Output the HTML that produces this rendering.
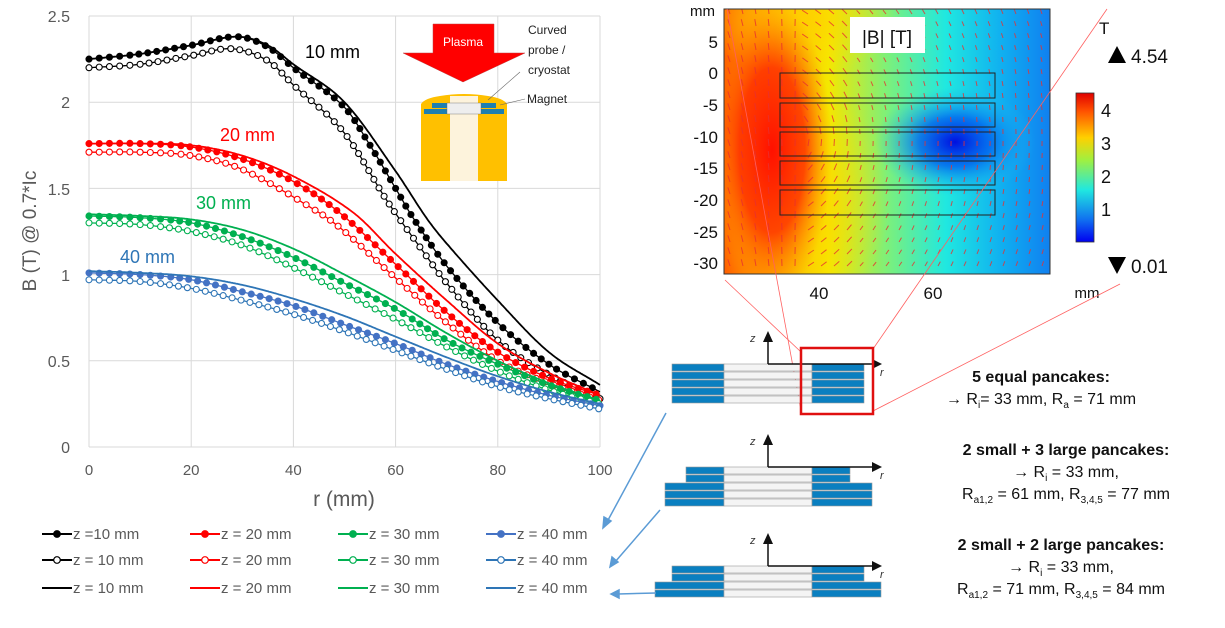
<!DOCTYPE html>
<html><head><meta charset="utf-8"><style>
body{margin:0;background:#fff;width:1225px;height:623px;overflow:hidden;font-family:"Liberation Sans",sans-serif}
svg text{font-family:"Liberation Sans",sans-serif}
</style></head><body>
<svg id="s" width="1225" height="623" viewBox="0 0 1225 623" xmlns="http://www.w3.org/2000/svg">
<defs>
<linearGradient id="hg" x1="0" x2="1" y1="0" y2="0">
<stop offset="0" stop-color="#ff6000"/><stop offset="0.15" stop-color="#ff9a00"/><stop offset="0.32" stop-color="#f4e800"/>
<stop offset="0.5" stop-color="#7df07a"/><stop offset="0.68" stop-color="#20e8e0"/><stop offset="0.85" stop-color="#10b0f0"/><stop offset="1" stop-color="#1080f0"/></linearGradient>
<radialGradient id="rr" cx="0.5" cy="0.5" r="0.5"><stop offset="0" stop-color="#ff1000"/><stop offset="0.55" stop-color="#ff3000" stop-opacity="0.85"/><stop offset="1" stop-color="#ff8000" stop-opacity="0"/></radialGradient>
<radialGradient id="bb" cx="0.5" cy="0.5" r="0.5"><stop offset="0" stop-color="#0010e0"/><stop offset="0.45" stop-color="#0060f0" stop-opacity="0.8"/><stop offset="1" stop-color="#20c0f0" stop-opacity="0"/></radialGradient>
<radialGradient id="yy" cx="0.5" cy="0.5" r="0.5"><stop offset="0" stop-color="#ffd000" stop-opacity="0.9"/><stop offset="1" stop-color="#ffe000" stop-opacity="0"/></radialGradient>
<linearGradient id="cb" x1="0" x2="0" y1="0" y2="1">
<stop offset="0" stop-color="#e00000"/><stop offset="0.12" stop-color="#ff5000"/><stop offset="0.3" stop-color="#ffd000"/><stop offset="0.45" stop-color="#a0f040"/><stop offset="0.65" stop-color="#20e8e0"/><stop offset="0.85" stop-color="#1070f0"/><stop offset="1" stop-color="#0000f0"/></linearGradient>
<clipPath id="hc"><rect x="724" y="9" width="326" height="265"/></clipPath>
</defs>
<g id="grid" stroke="#d9d9d9" stroke-width="1"></g>
<g fill="#595959" font-size="16" text-anchor="end">
<text x="70" y="453">0</text><text x="70" y="367">0.5</text><text x="70" y="281">1</text><text x="70" y="195">1.5</text><text x="70" y="108">2</text><text x="70" y="22">2.5</text>
</g>
<g fill="#595959" font-size="15" text-anchor="middle" id="xl"></g>
<text x="344" y="506" font-size="21" fill="#595959" text-anchor="middle">r (mm)</text>
<text transform="translate(36,231) rotate(-90)" font-size="19" fill="#595959" text-anchor="middle">B (T) @ 0.7*Ic</text>
<g id="curves"></g>
<text x="305" y="58" font-size="18" fill="#000">10 mm</text>
<text x="220" y="141" font-size="18" fill="#ff0000">20 mm</text>
<text x="196" y="209" font-size="18" fill="#00b050">30 mm</text>
<text x="120" y="263" font-size="18" fill="#2e75b6">40 mm</text>
<!-- inset -->
<polygon points="433,24 494,24 494,53 525,53 463,82 403,53 433,53" fill="#ff0000" stroke="#c04040" stroke-width="0.5"/>
<text x="463" y="46" font-size="12" fill="#fff" text-anchor="middle">Plasma</text>
<path d="M421,181 L421,104 Q425,98 440,96 Q464,92 488,96 Q503,98 507,104 L507,181 Z" fill="#ffc000"/>
<rect x="450" y="96" width="28" height="85" fill="#fdf3dc"/>
<rect x="432" y="103" width="64" height="5" fill="#1e7fb0"/><rect x="424" y="109" width="80" height="5" fill="#1e7fb0"/>
<rect x="447" y="103" width="34" height="11" fill="#eee" stroke="#666" stroke-width="0.4"/>
<line x1="488" y1="100" x2="520" y2="72" stroke="#666" stroke-width="0.6"/><line x1="500" y1="105" x2="525" y2="99" stroke="#666" stroke-width="0.6"/>
<g font-size="12" fill="#222"><text x="528" y="34">Curved</text><text x="528" y="54">probe /</text><text x="528" y="74">cryostat</text><text x="527" y="103">Magnet</text></g>
<g id="leg" font-size="15" fill="#595959"></g>
<!-- heatmap -->
<g clip-path="url(#hc)">
<rect x="724" y="9" width="326" height="265" fill="url(#hg)"/>
<ellipse cx="800" cy="20" rx="100" ry="55" fill="url(#yy)"/>
<ellipse cx="800" cy="200" rx="90" ry="120" fill="url(#yy)"/>
<ellipse cx="772" cy="150" rx="60" ry="150" fill="url(#rr)"/>
<ellipse cx="955" cy="142" rx="80" ry="55" fill="url(#bb)"/>
<g id="arr" stroke="#e83030" stroke-width="1" opacity="0.8"></g>
</g>
<rect x="724" y="9" width="326" height="265" fill="none" stroke="#333" stroke-width="1"/>
<g fill="none" stroke="#222" stroke-width="1"><rect x="780" y="73" width="215" height="25"/><rect x="780" y="103" width="215" height="24"/><rect x="780" y="132" width="215" height="24"/><rect x="780" y="161" width="215" height="24"/><rect x="780" y="190" width="215" height="25"/></g>
<rect x="850" y="17" width="75" height="36" fill="#fff"/>
<text x="887" y="44" font-size="19" fill="#111" text-anchor="middle">|B| [T]</text>
<g font-size="17" fill="#111" text-anchor="end"><text x="718" y="48">5</text><text x="718" y="79">0</text><text x="718" y="111">-5</text><text x="718" y="143">-10</text><text x="718" y="174">-15</text><text x="718" y="206">-20</text><text x="718" y="238">-25</text><text x="718" y="269">-30</text></g>
<text x="690" y="16" font-size="15" fill="#111">mm</text>
<g font-size="17" fill="#111" text-anchor="middle"><text x="819" y="299">40</text><text x="933" y="299">60</text></g>
<text x="1087" y="298" font-size="15" fill="#111" text-anchor="middle">mm</text>
<text x="1099" y="34" font-size="17" fill="#111">T</text>
<polygon points="1108,63 1126,63 1117,46" fill="#000"/><text x="1131" y="63" font-size="19" fill="#111">4.54</text>
<polygon points="1108,257 1126,257 1117,274" fill="#000"/><text x="1131" y="273" font-size="19" fill="#111">0.01</text>
<rect x="1076" y="93" width="18" height="149" fill="url(#cb)" stroke="#333" stroke-width="0.8"/>
<g font-size="18" fill="#111"><text x="1101" y="117">4</text><text x="1101" y="150">3</text><text x="1101" y="183">2</text><text x="1101" y="216">1</text></g>
<g stroke="#ff6060" stroke-width="0.8"><line x1="727" y1="9" x2="801" y2="410"/><line x1="1107" y1="9" x2="873" y2="349"/><line x1="725" y1="280" x2="801" y2="352"/><line x1="1120" y1="284" x2="873" y2="411"/></g>
<g id="pc"></g>
<rect x="801" y="348" width="72" height="66" fill="none" stroke="#e01010" stroke-width="2.5"/>
<g font-size="16" fill="#111" text-anchor="middle">
<text x="1041" y="382" font-weight="bold">5 equal pancakes:</text>
<text x="1041" y="404">→ R<tspan font-size="10" dy="4">i</tspan><tspan dy="-4">= 33 mm, R</tspan><tspan font-size="10" dy="4">a</tspan><tspan dy="-4"> = 71 mm</tspan></text>
<text x="1066" y="455" font-weight="bold">2 small + 3 large pancakes:</text>
<text x="1066" y="477">→ R<tspan font-size="10" dy="4">i</tspan><tspan dy="-4"> = 33 mm,</tspan></text>
<text x="1066" y="499">R<tspan font-size="10" dy="4">a1,2</tspan><tspan dy="-4"> = 61 mm, R</tspan><tspan font-size="10" dy="4">3,4,5</tspan><tspan dy="-4"> = 77 mm</tspan></text>
<text x="1061" y="550" font-weight="bold">2 small + 2 large pancakes:</text>
<text x="1061" y="572">→ R<tspan font-size="10" dy="4">i</tspan><tspan dy="-4"> = 33 mm,</tspan></text>
<text x="1061" y="594">R<tspan font-size="10" dy="4">a1,2</tspan><tspan dy="-4"> = 71 mm, R</tspan><tspan font-size="10" dy="4">3,4,5</tspan><tspan dy="-4"> = 84 mm</tspan></text>
</g>
<g stroke="#5b9bd5" stroke-width="1.5" fill="#5b9bd5">
<line x1="666" y1="413" x2="607" y2="522"/><polygon points="603,528 604,517 611,521"/>
<line x1="660" y1="510" x2="615" y2="562"/><polygon points="610,567 612,557 618,562"/>
<line x1="656" y1="593" x2="618" y2="594"/><polygon points="611,594 619,590 619,598"/>
</g>
</svg>
<script>
const NS="http://www.w3.org/2000/svg";
function el(p,t,a){const e=document.createElementNS(NS,t);for(const k in a)e.setAttribute(k,a[k]);p.appendChild(e);return e;}
const X=r=>89+r*5.11, Y=b=>447-b*172.4;
const g=document.getElementById('grid');
for(let i=0;i<=5;i++){el(g,'line',{x1:X(i*20),x2:X(i*20),y1:16,y2:447});el(g,'line',{x1:89,x2:600,y1:Y(i*0.5),y2:Y(i*0.5)});}
const xl=document.getElementById('xl');
for(let i=0;i<=5;i++){const t=el(xl,'text',{x:X(i*20),y:475});t.textContent=i*20;}
function interp(pts,r){for(let i=0;i<pts.length-1;i++){const a=pts[i],b=pts[i+1];if(r>=a[0]&&r<=b[0]){const p0=pts[i-1]||a,p3=pts[i+2]||b;const t=(r-a[0])/(b[0]-a[0]);
const m1=(b[1]-p0[1])/(b[0]-p0[0])*(b[0]-a[0]),m2=(p3[1]-a[1])/(p3[0]-a[0])*(b[0]-a[0]);
const t2=t*t,t3=t2*t;return (2*t3-3*t2+1)*a[1]+(t3-2*t2+t)*m1+(-2*t3+3*t2)*b[1]+(t3-t2)*m2;}}return pts[pts.length-1][1];}
const S=[
["#000","f",[[0,2.25],[10,2.28],[20,2.33],[29,2.38],[35,2.32],[40,2.2],[50,1.97],[55,1.75],[60,1.5],[63.4,1.33],[70,1.05],[80,0.72],[90,0.48],[100,0.32]]],
["#000","o",[[0,2.2],[10,2.22],[20,2.27],[28,2.31],[35,2.24],[40,2.1],[50,1.82],[58.5,1.42],[65,1.15],[70,0.95],[80,0.62],[90,0.42],[100,0.28]]],
["#000","l",[[0,2.25],[10,2.28],[20,2.33],[29,2.38],[35,2.33],[40,2.22],[50,2.0],[60,1.6],[66,1.33],[70,1.18],[80,0.85],[90,0.55],[100,0.36]]],
["#ff0000","f",[[0,1.76],[10,1.76],[20,1.74],[30,1.67],[40,1.54],[49,1.36],[60,1.06],[70,0.78],[80,0.55],[90,0.4],[100,0.3]]],
["#ff0000","o",[[0,1.71],[10,1.71],[20,1.69],[30,1.61],[45,1.36],[50,1.25],[60,0.98],[70,0.72],[80,0.5],[90,0.37],[100,0.27]]],
["#ff0000","l",[[0,1.76],[10,1.76],[20,1.75],[30,1.69],[40,1.57],[51.7,1.36],[60,1.12],[70,0.85],[80,0.6],[90,0.43],[100,0.3]]],
["#00b050","f",[[0,1.34],[10,1.33],[20,1.3],[30,1.22],[40,1.1],[50,0.95],[60,0.8],[70,0.62],[80,0.48],[90,0.36],[100,0.27]]],
["#00b050","o",[[0,1.3],[10,1.29],[20,1.25],[30,1.17],[40,1.04],[50,0.89],[60,0.74],[70,0.58],[80,0.44],[90,0.33],[100,0.25]]],
["#00b050","l",[[0,1.35],[10,1.34],[20,1.32],[30,1.26],[40,1.15],[50,1.0],[60,0.84],[70,0.66],[80,0.5],[90,0.37],[100,0.27]]],
["#4472c4","f",[[0,1.01],[10,1.0],[20,0.97],[30,0.9],[40,0.82],[50,0.71],[60,0.6],[70,0.48],[80,0.38],[90,0.3],[100,0.24]]],
["#2e75b6","o",[[0,0.97],[10,0.96],[20,0.92],[30,0.85],[40,0.77],[50,0.67],[60,0.56],[70,0.45],[80,0.35],[90,0.28],[100,0.22]]],
["#2e75b6","l",[[0,1.02],[10,1.01],[20,0.99],[30,0.94],[40,0.86],[50,0.76],[60,0.64],[70,0.52],[80,0.41],[90,0.32],[100,0.25]]]];
const cg=document.getElementById('curves');
S.forEach(([c,t,p])=>{let d="";const pts=[];for(let r=0;r<=100;r+=0.25){const x=X(r),y=Y(interp(p,r));pts.push([x,y]);d+=(r?"L":"M")+x.toFixed(1)+","+y.toFixed(1);}
el(cg,'path',{d:d,fill:'none',stroke:c,'stroke-width':t=='l'?1.8:1.3});
if(t!='l'){let acc=1e9;let prev=null;pts.forEach(q=>{if(prev)acc+=Math.hypot(q[0]-prev[0],q[1]-prev[1]);prev=q;
if(acc>=9){acc=0;el(cg,'circle',{cx:q[0],cy:q[1],r:3,fill:t=='f'?c:'#fff',stroke:c,'stroke-width':1.1});}});}});
const lg=document.getElementById('leg');const cols=["#000","#ff0000","#00b050","#4472c4"],cols2=["#000","#ff0000","#00b050","#2e75b6"];
const names=["10","20","30","40"],ys=[539,565,593];
for(let i=0;i<4;i++)for(let j=0;j<3;j++){const x=42+i*148,y=ys[j],c=j==0?cols[i]:cols2[i];
el(lg,'line',{x1:x,x2:x+30,y1:y-5,y2:y-5,stroke:c,'stroke-width':2});
if(j<2)el(lg,'circle',{cx:x+15,cy:y-5,r:3.3,fill:j==0?c:'#fff',stroke:c,'stroke-width':1.2});
const t=el(lg,'text',{x:x+31,y:y});t.textContent=(i==0&&j==0)?"z =10 mm":"z = "+names[i]+" mm";}
const ar=document.getElementById('arr');
for(let x=730;x<1050;x+=13)for(let y=14;y<274;y+=12){let ang;const dx=x-790;
if(x<800)ang=-90+dx*0.3;else{const cy=142;ang=-90+Math.atan2(y-cy,dx)*40;ang=Math.max(-180,Math.min(0,ang));}
const L=x<850?7:5,a=ang*Math.PI/180;el(ar,'line',{x1:x,y1:y,x2:x+L*Math.cos(a),y2:y+L*Math.sin(a)});}
const pc=document.getElementById('pc');
function stack(rows,ax,ay){rows.forEach(([l,r,y,h])=>{el(pc,'rect',{x:l,y:y,width:724-l,height:h,fill:'#0a7fc0',stroke:'#999','stroke-width':0.6});
el(pc,'rect',{x:724,y:y,width:88,height:h,fill:'#f4f4f4',stroke:'#999','stroke-width':0.6});
el(pc,'rect',{x:812,y:y,width:r-812,height:h,fill:'#0a7fc0',stroke:'#999','stroke-width':0.6});});
el(pc,'line',{x1:768,y1:ay,x2:768,y2:ay-26,stroke:'#111','stroke-width':1.5});el(pc,'polygon',{points:`763,${ay-22} 773,${ay-22} 768,${ay-33}`,fill:'#111'});
el(pc,'line',{x1:768,y1:ay,x2:875,y2:ay,stroke:'#111','stroke-width':1.5});el(pc,'polygon',{points:`872,${ay-5} 872,${ay+5} 882,${ay}`,fill:'#111'});
let t=el(pc,'text',{x:ax,y:ay-22,'font-size':11,'font-style':'italic',fill:'#333'});t.textContent='z';
t=el(pc,'text',{x:880,y:ay+12,'font-size':11,'font-style':'italic',fill:'#333'});t.textContent='r';}
stack([[672,864,364,7],[672,864,372,7],[672,864,380,7],[672,864,388,7],[672,864,396,7]],750,364);
stack([[686,850,467,7],[686,850,475,7],[665,872,483,7],[665,872,491,7],[665,872,499,7]],750,467);
stack([[672,864,566,7],[672,864,574,7],[655,881,582,7],[655,881,590,7]],750,566);
</script>
</body></html>
